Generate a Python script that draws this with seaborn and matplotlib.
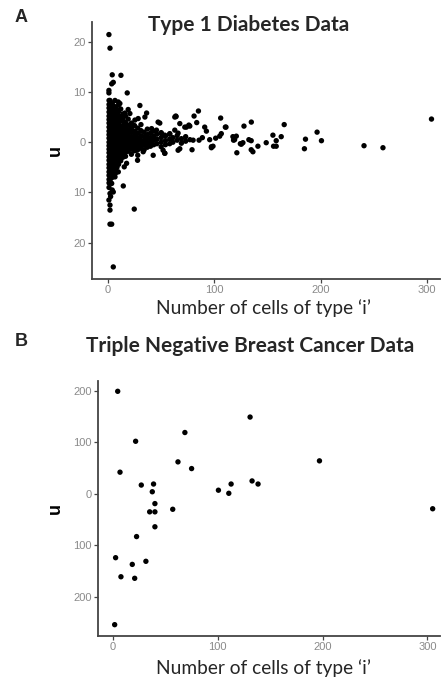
import matplotlib
matplotlib.use("Agg")
import matplotlib.pyplot as plt
import seaborn as sns
import pandas as pd

# ---------------- Panel A: Type 1 Diabetes data ----------------
t1d_core_x = [1, 1, 1, 1, 1, 1, 1, 1, 1, 1, 1, 1, 1, 1, 1, 1, 1, 1, 1, 1, 1, 1, 1, 1,
              2.5, 2.5, 2.5, 2.5, 2.5, 2.5, 2.5, 2.5, 2.5, 2.5, 2.5, 2.5, 2.5, 2.5, 2.5, 2.5, 2.5, 2.5, 2.5, 2.5, 2.5, 2.5,
              4, 4, 4, 4, 4, 4, 4, 4, 4, 4, 4, 4, 4, 4, 4, 4, 4, 4, 4, 4, 4,
              5.5, 5.5, 5.5, 5.5, 5.5, 5.5, 5.5, 5.5, 5.5, 5.5, 5.5, 5.5, 5.5, 5.5, 5.5, 5.5, 5.5, 5.5, 5.5,
              7, 7, 7, 7, 7, 7, 7, 7, 7, 7, 7, 7, 7, 7, 7, 7, 7, 7,
              8.5, 8.5, 8.5, 8.5, 8.5, 8.5, 8.5, 8.5, 8.5, 8.5, 8.5, 8.5, 8.5, 8.5, 8.5, 8.5,
              10, 10, 10, 10, 10, 10, 10, 10, 10, 10, 10, 10, 10, 10, 10,
              12, 12, 12, 12, 12, 12, 12, 12, 12, 12, 12, 12, 12]
t1d_core_y = [8.3, 7.5, 6.8, 6.0, 5.2, 4.5, 3.8, 3.0, 2.2, 1.5, 0.8, 0.0, -0.7, -1.4, -2.1, -2.9, -3.6, -4.4, -5.1, -5.9, -6.6, -7.4, -8.1, -9.0,
              7.0, 6.2, 5.5, 4.7, 3.9, 3.2, 2.4, 1.7, 0.9, 0.2, -0.5, -1.2, -2.0, -2.7, -3.5, -4.2, -5.0, -5.7, -6.5, -7.2, -8.0, -10.8,
              7.8, 6.6, 5.8, 5.0, 4.3, 3.5, 2.8, 2.0, 1.2, 0.5, -0.3, -1.0, -1.8, -2.5, -3.3, -4.0, -4.8, -5.5, -6.3, -7.0, -9.5,
              7.2, 6.4, 5.6, 4.8, 4.0, 3.3, 2.5, 1.8, 1.0, 0.3, -0.4, -1.1, -1.9, -2.6, -3.4, -4.1, -4.9, -5.6, -6.8,
              6.9, 6.0, 5.3, 4.5, 3.7, 2.9, 2.1, 1.4, 0.6, -0.1, -0.9, -1.6, -2.4, -3.1, -3.9, -4.6, -5.4, -6.2,
              6.5, 5.7, 4.9, 4.1, 3.4, 2.6, 1.9, 1.1, 0.4, -0.3, -1.1, -1.8, -2.6, -3.3, -4.0, -5.0,
              7.4, 6.1, 5.3, 4.4, 3.6, 2.8, 2.0, 1.3, 0.5, -0.2, -1.0, -1.7, -2.4, -3.0, -4.4,
              6.6, 5.0, 4.2, 3.0, 2.3, 1.5, 0.8, 0.1, -0.6, -1.3, -2.0, -2.8, -3.7]

t1d_wedge_x = [14, 14, 14, 14, 14, 14, 14, 14, 14, 14, 14,
               16.5, 16.5, 16.5, 16.5, 16.5, 16.5, 16.5, 16.5, 16.5, 16.5,
               19, 19, 19, 19, 19, 19, 19, 19,
               22, 22, 22, 22, 22, 22, 22, 22,
               25, 25, 25, 25, 25, 25, 25,
               28, 28, 28, 28, 28, 28, 28,
               31, 31, 31, 31, 31, 31,
               34, 34, 34, 34, 34,
               37, 37, 37, 37, 37,
               40, 40, 40, 40,
               43, 43, 43, 43,
               46, 46, 46,
               50, 50, 50, 50,
               54, 54, 54,
               58, 58, 58,
               61, 61, 65, 65, 69, 69, 73, 73, 77]
t1d_wedge_y = [5.6, 4.5, 3.3, 2.6, 1.8, 1.1, 0.3, -0.5, -1.4, -2.2, -3.0,
               5.2, 3.9, 2.8, 2.0, 1.2, 0.4, -0.4, -1.2, -2.0, -2.8,
               4.6, 3.4, 2.4, 1.5, 0.7, -0.2, -1.0, -1.8,
               3.8, 2.9, 2.0, 1.1, 0.3, -0.6, -1.4, -2.4,
               3.3, 2.2, 1.4, 0.6, -0.2, -1.0, -1.7,
               2.8, 1.8, 0.9, 0.1, -0.8, -1.5, -2.6,
               3.5, 2.3, 1.3, 0.4, -0.4, -1.2,
               2.0, 1.1, 0.2, -0.6, -1.5,
               2.6, 1.5, 0.7, -0.2, -1.0,
               1.8, 0.9, 0.0, -0.8,
               2.2, 1.2, 0.4, -0.5,
               1.6, 0.6, -0.3,
               1.9, 0.9, 0.0, -0.9,
               1.2, 0.3, -0.5,
               1.6, 0.6, -0.3,
               0.9, 0.0, 1.3, 0.4, 0.7, -0.2, 1.1, 0.2, 0.5]

t1d_spread_x = [0.9, 1.9, 4, 12.2, 5, 3.5, 0.9, 0.9, 18.1, 1.9, 6.6, 9.7, 11.2, 30, 19, 15.9, 20.6,
                36.3, 34.7, 28.4, 25.3, 47.1, 62.8, 15.3, 17.5, 22.2, 41, 45.6, 50.3, 53.4, 58.1,
                26.9, 33.1, 42.5, 53.4, 27.8, 17.5, 15.3, 9.7, 6.6, 1.9, 3.5, 14.4, 5, 1.9, 0.9,
                1.9, 1.9, 24.7, 1.9, 3.5, 5,
                63.7, 80.9, 85, 105.9, 83.4, 67.5, 76, 73.7, 48.7, 90.9, 92.5, 110.9, 62.8, 65.9,
                88.7, 85.6, 80, 95.6, 101.2, 97.2, 79, 67.5, 65.9, 53.4, 51.8, 64, 72.2, 76.9]
t1d_spread_y = [21.4, 18.7, 13.4, 13.3, 11.9, 11.6, 10.3, 9.8, 9.8, 8.3, 8.3, 8.0, 7.7, 7.3, 6.5, 5.8, 5.7,
                5.8, 5.0, 4.7, 4.4, 4.0, 5.0, 4.0, 3.2, 3.0, 2.7, 2.4, 1.7, 1.4, 1.7,
                -1.6, -1.9, -2.6, -2.2, -3.6, -4.2, -4.9, -5.9, -6.9, -7.9, -8.2, -8.7, -9.9, -10.2, -11.5,
                -12.5, -13.5, -13.3, -16.3, -16.3, -24.8,
                5.2, 5.2, 6.2, 4.8, 3.9, 3.7, 3.4, 3.0, 3.8, 3.0, 2.2, 3.0, 2.4, 1.8,
                0.9, 0.4, 0.4, 0.5, 0.8, -0.9, -1.5, -1.3, -1.6, -2.2, -1.6, 5.1, 3.0, 3.2]

t1d_tail_x = [98.7, 97.2, 105, 106.5, 117.4, 119, 121.1, 124.4, 126.8, 132.4, 134.6, 134.6, 136.2,
              140.9, 148.7, 155, 155.6, 158.1, 158.1, 162.8, 184.6, 185.6, 196.5, 200.6, 240.6,
              258.4, 304, 165.6, 134.7, 127.8, 110.3, 120.6, 118, 125.3]
t1d_tail_y = [-0.8, -1.1, 1.2, 1.7, 1.1, 0.5, -2.1, -0.3, -0.1, 0.5, 0.3, -1.5, -1.9,
              -0.8, -0.1, 1.4, -0.8, -0.8, 0.3, 1.1, -1.3, 0.6, 2.0, 0.3, -0.7,
              -1.1, 4.6, 3.5, 4.0, 3.2, 3.0, 1.2, 0.4, -0.4]

# ---------------- Panel B: Triple negative breast cancer data ----------------
tnbc_x = [4.5, 21.6, 6.7, 68.6, 130.8, 62, 75, 197, 27, 38.7, 37.5, 40, 35, 40, 57,
          100.6, 110.5, 112.7, 132.7, 138.4, 305, 40, 22.5, 2.5, 31.4, 18.4, 7.6, 20.7, 1.6]
tnbc_y = [199, 102, 42, 119, 149, 62, 49, 64, 17, 19, 4, -19, -35, -35, -30,
          7, 1, 19, 25, 19, -29, -64, -83, -124, -131, -137, -161, -164, -254]

t1d_yticks = [20, 10, 0, -10, -20]
t1d_yticklabels = ["20", "10", "0", "10", "20"]
tnbc_yticks = [200, 100, 0, -100, -200]
tnbc_yticklabels = ["200", "100", "0", "100", "200"]
xticks = [0, 100, 200, 300]
xlabel = "Number of cells of type \u2018i\u2019"

df_a = pd.DataFrame({
    "n": t1d_core_x + t1d_wedge_x + t1d_spread_x + t1d_tail_x,
    "u": t1d_core_y + t1d_wedge_y + t1d_spread_y + t1d_tail_y,
})
df_b = pd.DataFrame({"n": tnbc_x, "u": tnbc_y})

sns.set_theme(style="white")
plt.rcParams["font.family"] = ["Liberation Sans", "DejaVu Sans"]

W, H = 441, 682
fig = plt.figure(figsize=(W / 100, H / 100), dpi=100)

def box(l, t, r, b):
    return [l / W, 1 - b / H, (r - l) / W, (b - t) / H]

ax_a = fig.add_axes(box(92, 22, 440, 279))
ax_b = fig.add_axes(box(98, 381, 440, 636))

sns.scatterplot(data=df_a, x="n", y="u", ax=ax_a, color="black", s=15,
                edgecolor="none", linewidth=0, legend=False)
sns.scatterplot(data=df_b, x="n", y="u", ax=ax_b, color="black", s=15,
                edgecolor="none", linewidth=0, legend=False)

ax_a.set_xlim(-15, 312)
ax_a.set_ylim(-27.2, 23.9)
ax_b.set_xlim(-14.3, 312)
ax_b.set_ylim(-276, 219)

ax_a.set_yticks(t1d_yticks, t1d_yticklabels)
ax_b.set_yticks(tnbc_yticks, tnbc_yticklabels)
for ax in (ax_a, ax_b):
    ax.set_xticks(xticks, [str(v) for v in xticks])
    for side in ("top", "right"):
        ax.spines[side].set_visible(False)
    for side in ("left", "bottom"):
        ax.spines[side].set_color("#444444")
        ax.spines[side].set_linewidth(1.3)
    ax.tick_params(axis="both", which="both", length=3, width=0.9, color="#444444",
                   labelcolor="#8a8a8a", labelsize=8, pad=1.5, left=True, bottom=True)
    ax.set_xlabel("")
    ax.set_ylabel("u", fontsize=13, color="black", labelpad=7, fontweight="bold")

title_font = ["Lato", "DejaVu Sans"]
fig.text(249 / W, 1 - 25 / H, "Type 1 Diabetes Data", ha="center", va="center",
         fontsize=15, fontweight="bold", family=title_font)
fig.text(250 / W, 1 - 346 / H, "Triple Negative Breast Cancer Data", ha="center", va="center",
         fontsize=15, fontweight="bold", family=title_font)
fig.text(21 / W, 1 - 18 / H, "A", ha="center", va="center", fontsize=13,
         fontweight="bold", family=["Liberation Sans", "DejaVu Sans"])
fig.text(21 / W, 1 - 342 / H, "B", ha="center", va="center", fontsize=13,
         fontweight="bold", family=["Liberation Sans", "DejaVu Sans"])
fig.text(264 / W, 1 - 308 / H, xlabel, ha="center", va="center", fontsize=13.8,
         family=title_font)
fig.text(264 / W, 1 - 668 / H, xlabel, ha="center", va="center", fontsize=13.8,
         family=title_font)

fig.savefig("out.png", dpi=100, facecolor="white")
